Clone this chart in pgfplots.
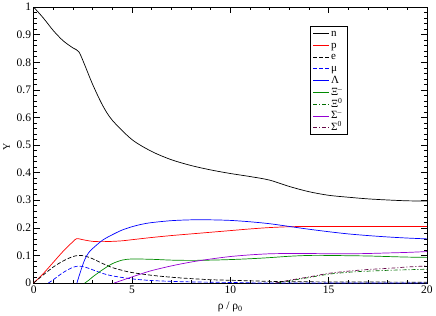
\documentclass[border=0pt]{standalone}
\usepackage{fontspec}
\setmainfont{Liberation Serif}
\usepackage{pgfplots}
\pgfplotsset{compat=1.18}
\definecolor{gred}{RGB}{255,0,0}
\definecolor{gblue}{RGB}{0,0,255}
\definecolor{ggreen}{RGB}{0,139,0}
\definecolor{gdgreen}{RGB}{0,110,0}
\definecolor{gviolet}{RGB}{148,0,211}
\definecolor{gmaroon}{RGB}{103,7,72}
\begin{document}
\begin{tikzpicture}
\begin{axis}[
  scale only axis, width=392bp, height=275bp,
  xmin=0, xmax=20, ymin=0, ymax=1,
  xtick={0,5,10,15,20}, ytick={0,0.1,...,1},
  minor x tick num=4, minor y tick num=4,
  tick align=inside, major tick length=6bp, minor tick length=3bp,
  tick style={black, line width=0.6pt},
  axis line style={line width=0.8pt},
  /pgf/number format/assume math mode=true,
  ticklabel style={font=\fontsize{11.5}{13}\selectfont},
  yticklabel style={/pgf/number format/fixed, /pgf/number format/precision=1, xshift=1pt},
  xticklabel style={yshift=1pt},
  xlabel={ρ / ρ\textsubscript{0}}, ylabel={Y},
  label style={font=\fontsize{11.5}{13}\selectfont},
  xlabel style={yshift=-2pt},
  every axis y label/.style={at={(ticklabel cs:0.5)}, rotate=90, anchor=near ticklabel, xshift=-2pt},
  legend style={at={(0.7015,0.931)}, anchor=north west, draw=black, line width=0.6pt,
    font=\fontsize{11}{12}\selectfont, row sep=0pt, inner xsep=3pt, inner ysep=1pt,
    nodes={inner ysep=0.3pt, text height=8.6pt, text depth=2.6pt}},
  legend cell align=left,
  legend image code/.code={\draw[#1, line width=0.7pt] (0cm,0cm) -- (0.55cm,0cm);},
  every axis plot/.append style={line width=0.7pt, smooth, tension=0.5},
  mydash/.style={dash pattern=on 4pt off 2pt},
  mydashdot/.style={dash pattern=on 4pt off 2pt on 1pt off 2pt},
]
\addplot[black] coordinates {(0,1)(0.5,0.96)(1,0.915)(1.5,0.878)(2,0.852)(2.3,0.838)(2.6,0.79)(3,0.72)(3.5,0.645)(4,0.59)(5,0.52)(6,0.477)(7,0.447)(8,0.426)(9,0.41)(10,0.397)(11,0.386)(12,0.373)(13,0.35)(14,0.331)(15,0.318)(16,0.311)(17,0.305)(18,0.301)(19,0.298)(20,0.297)};
\addlegendentry{n}
\addplot[gred] coordinates {(0,0)(0.5,0.035)(1,0.075)(1.5,0.115)(2,0.15)(2.2,0.161)(2.5,0.157)(3,0.151)(3.5,0.15)(4,0.151)(4.5,0.153)(5,0.157)(6,0.165)(7,0.172)(8,0.178)(9,0.184)(10,0.19)(11,0.196)(12,0.201)(13,0.204)(14,0.205)(17,0.205)(20,0.205)};
\addlegendentry{p}
\addplot[black, mydash] coordinates {(0,0)(0.5,0.03)(1,0.058)(1.5,0.08)(2,0.096)(2.3,0.1)(2.6,0.098)(3,0.088)(3.5,0.071)(4,0.056)(4.5,0.046)(5,0.038)(6,0.028)(7,0.021)(8,0.016)(9,0.012)(10,0.01)(11,0.008)(12,0.006)(13,0.005)(15,0.004)(20,0.003)};
\addlegendentry{e}
\addplot[gblue, mydash] coordinates {(0.75,0)(1,0.012)(1.5,0.038)(2,0.057)(2.3,0.061)(2.6,0.058)(3,0.048)(3.5,0.035)(4,0.026)(5,0.015)(6,0.009)(7,0.006)(8,0.004)(9,0.003)(10,0.002)(11,0.001)(12,0)(20,0)};
\addlegendentry{μ}
\addplot[gblue] coordinates {(2.2,0)(2.4,0.045)(2.6,0.085)(2.8,0.11)(3,0.125)(3.5,0.155)(4,0.175)(4.5,0.192)(5,0.204)(5.5,0.213)(6,0.219)(7,0.226)(8,0.229)(9,0.229)(10,0.227)(11,0.222)(12,0.215)(13,0.205)(14,0.195)(15,0.186)(16,0.178)(17,0.172)(18,0.167)(19,0.163)(20,0.16)};
\addlegendentry{Λ}
\addplot[ggreen] coordinates {(2.6,0)(2.8,0.01)(3,0.022)(3.5,0.048)(4,0.07)(4.5,0.083)(5,0.087)(6,0.086)(7,0.083)(8,0.082)(9,0.083)(10,0.085)(11,0.088)(12,0.092)(13,0.097)(14,0.1)(15,0.1)(16,0.099)(17,0.098)(18,0.096)(19,0.094)(20,0.093)};
\addlegendentry{Ξ\textsuperscript{–}}
\addplot[gdgreen, mydashdot] coordinates {(12.4,0)(13,0.008)(14,0.02)(15,0.032)(16,0.039)(17,0.043)(18,0.046)(19,0.048)(20,0.05)};
\addlegendentry{Ξ\textsuperscript{0}}
\addplot[gviolet] coordinates {(4.1,0)(4.5,0.01)(5,0.022)(5.5,0.034)(6,0.045)(7,0.062)(8,0.076)(9,0.087)(10,0.096)(11,0.102)(12,0.106)(13,0.107)(14,0.107)(15,0.106)(16,0.106)(17,0.107)(18,0.109)(19,0.111)(20,0.114)};
\addlegendentry{Σ\textsuperscript{–}}
\addplot[gmaroon, mydashdot] coordinates {(12.3,0)(13,0.01)(14,0.022)(15,0.035)(16,0.043)(17,0.049)(18,0.053)(19,0.058)(20,0.062)};
\addlegendentry{Σ\textsuperscript{0}}
\end{axis}
\end{tikzpicture}
\end{document}
